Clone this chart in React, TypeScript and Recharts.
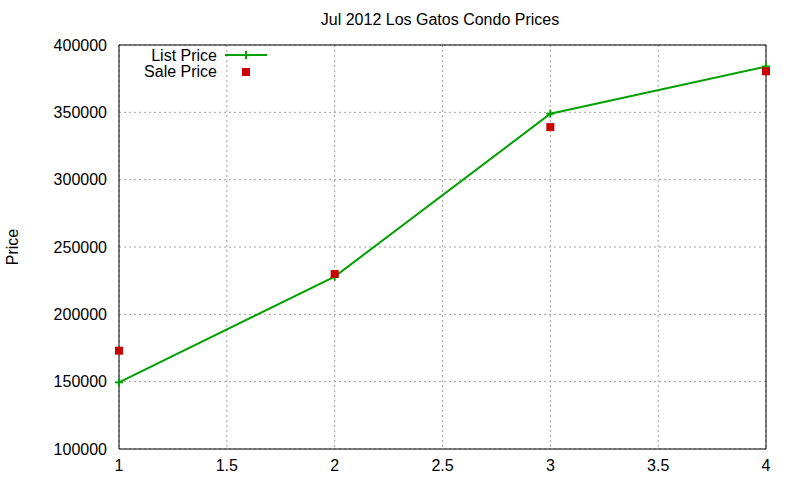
import React from "react";
import {
  ComposedChart,
  Line,
  XAxis,
  YAxis,
  CartesianGrid,
  ReferenceArea,
} from "recharts";

const xValues = [1, 2, 3, 4];
const listPrice = [149500, 228000, 349000, 384000];
const salePrice = [173000, 230000, 339000, 380500];
const xTicks = [1, 1.5, 2, 2.5, 3, 3.5, 4];
const yTicks = [100000, 150000, 200000, 250000, 300000, 350000, 400000];

const data = xValues.map((x, i) => ({ x, list: listPrice[i], sale: salePrice[i] }));

const GREEN = "#00a000";
const RED = "#cc0000";
const FONT = "'Liberation Sans', Arial, sans-serif";

const PlusDot = (props: any) => {
  const { cx, cy } = props;
  if (cx == null || cy == null) return null;
  return (
    <g>
      <line x1={cx - 4} y1={cy} x2={cx + 4} y2={cy} stroke={GREEN} strokeWidth={2} />
      <line x1={cx} y1={cy - 4} x2={cx} y2={cy + 4} stroke={GREEN} strokeWidth={2} />
    </g>
  );
};

const SquareDot = (props: any) => {
  const { cx, cy } = props;
  if (cx == null || cy == null) return null;
  return <rect x={cx - 4} y={cy - 4} width={8} height={8} fill={RED} />;
};

const YLabel = (props: any) => {
  const vb = props.viewBox || {};
  const x = 12;
  const y = vb.y + vb.height / 2;
  return (
    <text
      x={x}
      y={y}
      transform={`rotate(-90 ${x} ${y})`}
      textAnchor="middle"
      dominantBaseline="central"
      fontFamily={FONT}
      fontSize={16}
      fill="#000"
    >
      Price
    </text>
  );
};

export default function App() {
  return (
    <div
      style={{
        position: "absolute",
        left: 0,
        top: 0,
        width: 800,
        height: 480,
        background: "#fff",
        fontFamily: FONT,
      }}
    >
      <ComposedChart
        width={800}
        height={480}
        data={data}
        margin={{ top: 45, right: 34, bottom: 0, left: 0 }}
      >
        <CartesianGrid stroke="#a0a0a0" strokeDasharray="2 3" />
        <XAxis
          dataKey="x"
          type="number"
          domain={[1, 4]}
          ticks={xTicks}
          height={31}
          axisLine={false}
          tickLine={false}
          tickMargin={5}
          tick={{ fill: "#000", fontSize: 16, fontFamily: FONT }}
        />
        <YAxis
          type="number"
          domain={[100000, 400000]}
          ticks={yTicks}
          width={119}
          axisLine={false}
          tickLine={false}
          tickMargin={6}
          tick={{ fill: "#000", fontSize: 16, fontFamily: FONT }}
          label={<YLabel />}
        />
        <ReferenceArea
          x1={1}
          x2={4}
          y1={100000}
          y2={400000}
          fill="none"
          fillOpacity={0}
          stroke="#000"
          strokeWidth={1}
          ifOverflow="visible"
        />
        <Line
          dataKey="list"
          stroke={GREEN}
          strokeWidth={2}
          dot={<PlusDot />}
          activeDot={false}
          isAnimationActive={false}
          type="linear"
        />
        <Line
          dataKey="sale"
          stroke="none"
          strokeWidth={0}
          dot={<SquareDot />}
          activeDot={false}
          isAnimationActive={false}
          type="linear"
        />
      </ComposedChart>
      <div
        style={{
          position: "absolute",
          left: 0,
          top: 11,
          width: 880,
          textAlign: "center",
          fontSize: 16,
          color: "#000",
          whiteSpace: "nowrap",
        }}
      >
        Jul 2012 Los Gatos Condo Prices
      </div>
      <div style={{ position: "absolute", left: 0, top: 48, width: 217, textAlign: "right", fontSize: 16, lineHeight: "16px" }}>
        List Price
      </div>
      <div style={{ position: "absolute", left: 0, top: 64, width: 217, textAlign: "right", fontSize: 16, lineHeight: "16px" }}>
        Sale Price
      </div>
      <svg style={{ position: "absolute", left: 0, top: 0 }} width={800} height={480} pointerEvents="none">
        <line x1={225} y1={55} x2={267} y2={55} stroke={GREEN} strokeWidth={2} />
        <PlusDot cx={246} cy={55} />
        <SquareDot cx={246} cy={72} />
      </svg>
    </div>
  );
}
